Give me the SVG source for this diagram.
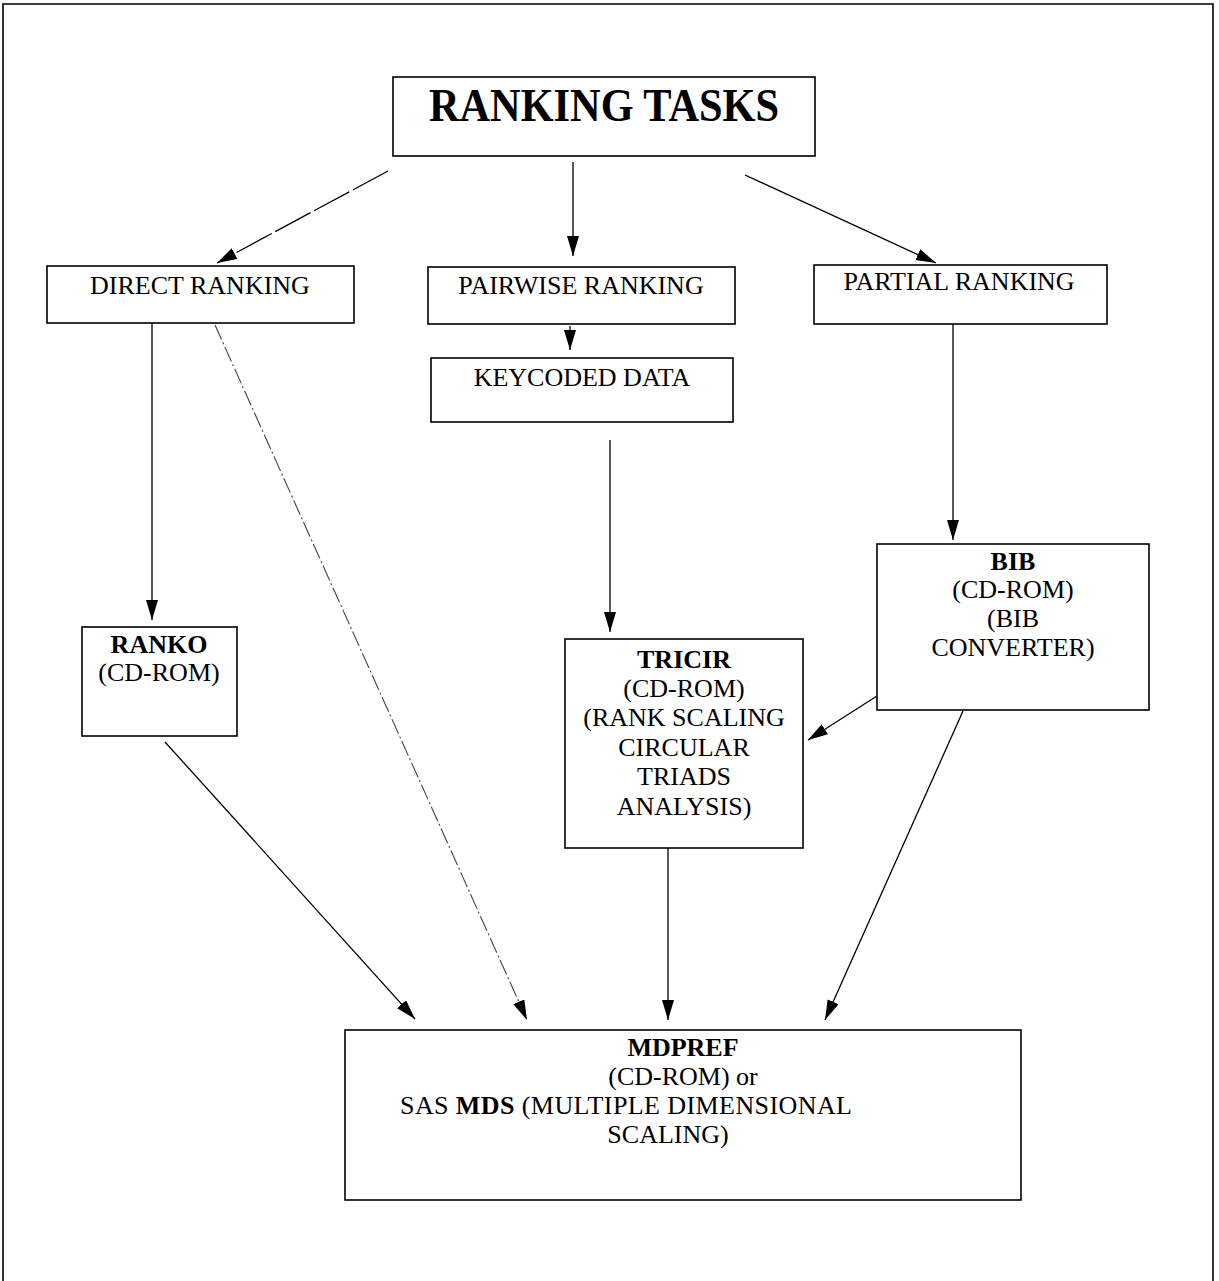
<svg xmlns="http://www.w3.org/2000/svg" width="1219" height="1281" viewBox="0 0 1219 1281">
<style>
.box{fill:#fff;stroke:#000;stroke-width:1.6}
.t{font-family:"Liberation Serif","Times New Roman",serif;font-size:26px;fill:#000;text-anchor:middle}
.b{font-weight:bold}
.c{stroke:#000;stroke-width:1.3;fill:none}
.dash{stroke:#444;stroke-width:1.1;stroke-dasharray:16 3 2 3;fill:none}
</style>
<defs>
<marker id="ah" markerUnits="userSpaceOnUse" markerWidth="22" markerHeight="14" refX="20" refY="6" orient="auto">
<path d="M0,0 L20,6 L0,12 z" fill="#000"/>
</marker>
</defs>
<rect x="0" y="0" width="1219" height="1281" fill="#fff"/>
<path d="M3,1281 V4 H1213 V1281" fill="none" stroke="#000" stroke-width="1.6"/>
<g id="connectors">
<line class="c" x1="388" y1="171" x2="217" y2="263" stroke-dasharray="40 4" marker-end="url(#ah)"/>
<line class="c" x1="573" y1="162" x2="573" y2="256" marker-end="url(#ah)"/>
<line class="c" x1="745" y1="175" x2="936" y2="263" marker-end="url(#ah)"/>
<line class="c" x1="570" y1="326" x2="570" y2="350" marker-end="url(#ah)"/>
<line class="c" x1="152" y1="323" x2="152" y2="620" marker-end="url(#ah)"/>
<line class="dash" x1="215" y1="325" x2="527" y2="1020" marker-end="url(#ah)"/>
<line class="c" x1="610" y1="440" x2="610" y2="632" marker-end="url(#ah)"/>
<line class="c" x1="953" y1="324" x2="953" y2="540" marker-end="url(#ah)"/>
<line class="c" x1="877" y1="696" x2="808" y2="740" marker-end="url(#ah)"/>
<line class="c" x1="165" y1="742" x2="415" y2="1019" marker-end="url(#ah)"/>
<line class="c" x1="668" y1="848" x2="668" y2="1020" marker-end="url(#ah)"/>
<line class="c" x1="963" y1="711" x2="825" y2="1020" marker-end="url(#ah)"/>
</g>
<g id="ranking-tasks">
<rect class="box" x="393" y="77" width="422" height="79"/>
<text class="t b" x="604" y="121" style="font-size:46px" textLength="350" lengthAdjust="spacingAndGlyphs">RANKING TASKS</text>
</g>
<g id="direct-ranking">
<rect class="box" x="47" y="266" width="307" height="57"/>
<text class="t" x="200" y="294">DIRECT RANKING</text>
</g>
<g id="pairwise-ranking">
<rect class="box" x="428" y="267" width="307" height="57"/>
<text class="t" x="581" y="294">PAIRWISE RANKING</text>
</g>
<g id="partial-ranking">
<rect class="box" x="814" y="265" width="293" height="59"/>
<text class="t" x="959" y="290">PARTIAL RANKING</text>
</g>
<g id="keycoded-data">
<rect class="box" x="431" y="358" width="302" height="64"/>
<text class="t" x="582" y="386">KEYCODED DATA</text>
</g>
<g id="ranko">
<rect class="box" x="82" y="627" width="155" height="109"/>
<text class="t b" x="159" y="653">RANKO</text>
<text class="t" x="159" y="681">(CD-ROM)</text>
</g>
<g id="tricir">
<rect class="box" x="565" y="639" width="238" height="209"/>
<text class="t b" x="684" y="668">TRICIR</text>
<text class="t" x="684" y="697">(CD-ROM)</text>
<text class="t" x="684" y="726">(RANK SCALING</text>
<text class="t" x="684" y="756">CIRCULAR</text>
<text class="t" x="684" y="785">TRIADS</text>
<text class="t" x="684" y="815">ANALYSIS)</text>
</g>
<g id="bib">
<rect class="box" x="877" y="544" width="272" height="166"/>
<text class="t b" x="1013" y="570">BIB</text>
<text class="t" x="1013" y="598">(CD-ROM)</text>
<text class="t" x="1013" y="627">(BIB</text>
<text class="t" x="1013" y="656">CONVERTER)</text>
</g>
<g id="mdpref">
<rect class="box" x="345" y="1030" width="676" height="170"/>
<text class="t b" x="683" y="1056">MDPREF</text>
<text class="t" x="683" y="1085">(CD-ROM) or</text>
<text class="t" x="400" y="1114" style="text-anchor:start" textLength="452">SAS <tspan font-weight="bold">MDS</tspan> (MULTIPLE DIMENSIONAL</text>
<text class="t" x="668" y="1143">SCALING)</text>
</g>
</svg>
